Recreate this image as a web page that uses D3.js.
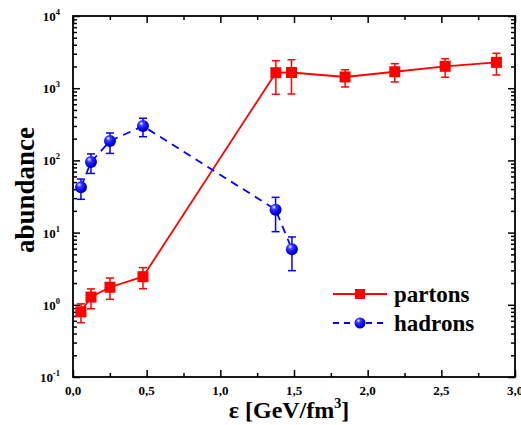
<!DOCTYPE html>
<html>
<head>
<meta charset="utf-8">
<script src="https://cdn.jsdelivr.net/npm/d3@7"></script>
<style>
  html, body { margin: 0; padding: 0; background: #fff; }
  svg { display: block; }
  text { font-family: "Liberation Serif", "Times New Roman", serif; font-weight: bold; }
</style>
</head>
<body>
<svg id="chart" width="521" height="425"></svg>
<script>
// ---- data ----
const partonX   = [0.054, 0.122, 0.251, 0.475, 1.377, 1.483, 1.847, 2.184, 2.526, 2.874];
const partonY   = [0.80, 1.28, 1.75, 2.45, 1640, 1650, 1430, 1690, 2010, 2280];
const partonErrHi = [1.03, 1.66, 2.35, 3.27, 2400, 2480, 1800, 2185, 2560, 3040];
const partonErrLo = [0.565, 0.88, 1.19, 1.67, 823, 832, 1040, 1220, 1416, 1524];

const hadronX   = [0.054, 0.122, 0.251, 0.475, 1.375, 1.486];
const hadronY   = [42.4, 95, 186, 299, 20.8, 5.87];
const hadronErrHi = [55.2, 123, 240, 383, 30.8, 8.7];
const hadronErrLo = [28.9, 66, 125, 213, 10.3, 2.97];

const xTickValues = [0, 0.5, 1.0, 1.5, 2.0, 2.5, 3.0];
const xTickLabels = ["0,0", "0,5", "1,0", "1,5", "2,0", "2,5", "3,0"];
const yTickExponents = [-1, 0, 1, 2, 3, 4];
const seriesNames = ["partons", "hadrons"];

// ---- layout ----
const L = 73, R = 515, T = 16, B = 377;
const FONT = "'Liberation Serif', 'Times New Roman', serif";
const svg = d3.select("#chart");
const x = d3.scaleLinear().domain([0, 3]).range([L, R]);
const y = d3.scaleLog().domain([0.1, 10000]).range([B, T]);

// gradient for spheres
const defs = svg.append("defs");
const grad = defs.append("radialGradient").attr("id", "ball")
  .attr("cx", "40%").attr("cy", "35%").attr("r", "65%").attr("fx", "35%").attr("fy", "28%");
grad.append("stop").attr("offset", "0%").attr("stop-color", "#e8e8ff");
grad.append("stop").attr("offset", "30%").attr("stop-color", "#3a3aff");
grad.append("stop").attr("offset", "75%").attr("stop-color", "#0000ee");
grad.append("stop").attr("offset", "100%").attr("stop-color", "#00008a");

// ---- axes ----
const minorX = d3.range(0, 3.001, 0.25).filter(v => Math.abs(v * 2 - Math.round(v * 2)) > 1e-6);
const yMinor = [];
for (let e = -1; e < 4; e++) for (let m = 2; m <= 9; m++) yMinor.push(m * Math.pow(10, e));
const yMajor = yTickExponents.map(e => Math.pow(10, e));

function styleAxis(g) {
  g.selectAll("path.domain").remove();
  g.selectAll("line").attr("stroke", "#000").attr("stroke-width", 1.5);
}
svg.append("g").attr("transform", `translate(0,${B})`)
  .call(d3.axisBottom(x).tickValues(xTickValues).tickSize(-7).tickFormat("")).call(styleAxis);
svg.append("g").attr("transform", `translate(0,${B})`)
  .call(d3.axisBottom(x).tickValues(minorX).tickSize(-4).tickFormat("")).call(styleAxis);
svg.append("g").attr("transform", `translate(0,${T})`)
  .call(d3.axisTop(x).tickValues(xTickValues).tickSize(-7).tickFormat("")).call(styleAxis);
svg.append("g").attr("transform", `translate(0,${T})`)
  .call(d3.axisTop(x).tickValues(minorX).tickSize(-4).tickFormat("")).call(styleAxis);
svg.append("g").attr("transform", `translate(${L},0)`)
  .call(d3.axisLeft(y).tickValues(yMajor).tickSize(-7).tickFormat("")).call(styleAxis);
svg.append("g").attr("transform", `translate(${L},0)`)
  .call(d3.axisLeft(y).tickValues(yMinor).tickSize(-4).tickFormat("")).call(styleAxis);
svg.append("g").attr("transform", `translate(${R},0)`)
  .call(d3.axisRight(y).tickValues(yMajor).tickSize(-7).tickFormat("")).call(styleAxis);
svg.append("g").attr("transform", `translate(${R},0)`)
  .call(d3.axisRight(y).tickValues(yMinor).tickSize(-4).tickFormat("")).call(styleAxis);

svg.append("rect").attr("x", L).attr("y", T).attr("width", R - L).attr("height", B - T)
  .attr("fill", "none").attr("stroke", "#000").attr("stroke-width", 1.8);

// x tick labels
svg.append("g").selectAll("text").data(xTickValues).join("text")
  .attr("x", d => x(d)).attr("y", B + 18)
  .attr("text-anchor", "middle").attr("font-size", 13).attr("font-family", FONT).attr("font-weight", "bold")
  .text((d, i) => xTickLabels[i]);

// y tick labels
const yl = svg.append("g").selectAll("text").data(yTickExponents).join("text")
  .attr("x", L - 13).attr("y", e => y(Math.pow(10, e)) + 5)
  .attr("text-anchor", "end").attr("font-size", 13).attr("font-family", FONT).attr("font-weight", "bold");
yl.append("tspan").text("10");
yl.append("tspan").attr("dy", -6).attr("font-size", 8.5).text(e => String(e));

// axis titles
const xt = svg.append("text").attr("x", 289).attr("y", 418)
  .attr("text-anchor", "middle").attr("font-size", 24).attr("font-family", FONT).attr("font-weight", "bold");
xt.append("tspan").text("ε [GeV/fm");
xt.append("tspan").attr("dy", -10).attr("font-size", 14).text("3");
xt.append("tspan").attr("dy", 10).text("]");

svg.append("text").attr("transform", `translate(34,190) rotate(-90)`)
  .attr("text-anchor", "middle").attr("font-size", 27).attr("font-family", FONT).attr("font-weight", "bold")
  .text("abundance");

// ---- series ----
const red = "#ff0000", blue = "#0000ff";
const pData = partonX.map((v, i) => ({ x: v, y: partonY[i], hi: partonErrHi[i], lo: partonErrLo[i] }));
const hData = hadronX.map((v, i) => ({ x: v, y: hadronY[i], hi: hadronErrHi[i], lo: hadronErrLo[i] }));
const line = d3.line().x(d => x(d.x)).y(d => y(d.y));

svg.append("path").datum(pData).attr("d", line)
  .attr("fill", "none").attr("stroke", red).attr("stroke-width", 1.8);
svg.append("path").datum(hData).attr("d", line)
  .attr("fill", "none").attr("stroke", blue).attr("stroke-width", 1.8).attr("stroke-dasharray", "8,6");

function errorBars(data, color) {
  const g = svg.append("g").attr("stroke", color).attr("stroke-width", 1.5);
  g.selectAll("line.v").data(data).join("line").attr("class", "v")
    .attr("x1", d => x(d.x)).attr("x2", d => x(d.x)).attr("y1", d => y(d.hi)).attr("y2", d => y(d.lo));
  g.selectAll("line.t").data(data).join("line").attr("class", "t")
    .attr("x1", d => x(d.x) - 4).attr("x2", d => x(d.x) + 4).attr("y1", d => y(d.hi)).attr("y2", d => y(d.hi));
  g.selectAll("line.b").data(data).join("line").attr("class", "b")
    .attr("x1", d => x(d.x) - 4).attr("x2", d => x(d.x) + 4).attr("y1", d => y(d.lo)).attr("y2", d => y(d.lo));
}
errorBars(pData, red);
errorBars(hData, blue);

const sq = 11;
svg.append("g").selectAll("rect").data(pData).join("rect")
  .attr("x", d => x(d.x) - sq / 2).attr("y", d => y(d.y) - sq / 2)
  .attr("width", sq).attr("height", sq).attr("fill", red);
svg.append("g").selectAll("circle").data(hData).join("circle")
  .attr("cx", d => x(d.x)).attr("cy", d => y(d.y)).attr("r", 6)
  .attr("fill", "url(#ball)");

// ---- legend ----
const lg = svg.append("g");
lg.append("line").attr("x1", 333).attr("x2", 387).attr("y1", 294).attr("y2", 294)
  .attr("stroke", red).attr("stroke-width", 1.8);
lg.append("rect").attr("x", 355).attr("y", 289).attr("width", 10).attr("height", 10).attr("fill", red);
lg.append("text").attr("x", 394).attr("y", 302).attr("font-size", 23)
  .attr("font-family", FONT).attr("font-weight", "bold").text(seriesNames[0]);
lg.append("line").attr("x1", 333).attr("x2", 387).attr("y1", 323).attr("y2", 323)
  .attr("stroke", blue).attr("stroke-width", 1.8).attr("stroke-dasharray", "6,5");
lg.append("circle").attr("cx", 360).attr("cy", 323).attr("r", 5.5).attr("fill", "url(#ball)");
lg.append("text").attr("x", 394).attr("y", 331).attr("font-size", 23)
  .attr("font-family", FONT).attr("font-weight", "bold").text(seriesNames[1]);
</script>
</body>
</html>
